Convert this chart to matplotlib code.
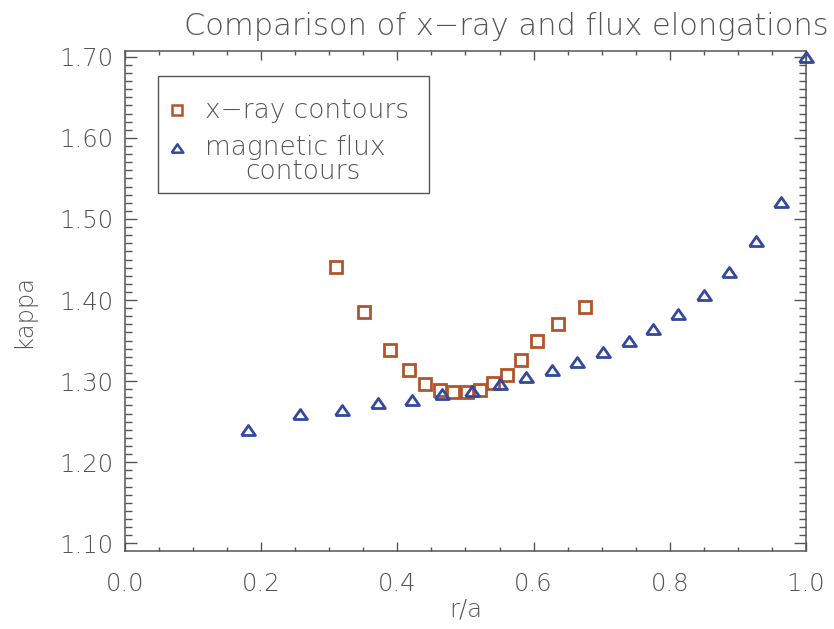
import matplotlib
matplotlib.use("Agg")
import matplotlib.pyplot as plt
from matplotlib.patches import Rectangle

plt.rcParams['font.family'] = ['DejaVu Sans']
plt.rcParams['axes.unicode_minus'] = True

# x-ray contour elongations
xray_r = [0.310, 0.351, 0.389, 0.417, 0.441, 0.463, 0.482, 0.502, 0.521,
          0.541, 0.561, 0.581, 0.605, 0.636, 0.676]
xray_kappa = [1.441, 1.385, 1.338, 1.314, 1.297, 1.289, 1.286, 1.286, 1.289,
              1.298, 1.308, 1.326, 1.350, 1.371, 1.391]

# magnetic flux contour elongations
flux_r = [0.180, 0.257, 0.318, 0.372, 0.421, 0.466, 0.509, 0.550, 0.589, 0.627,
          0.664, 0.702, 0.740, 0.776, 0.812, 0.850, 0.887, 0.926, 0.964, 1.000]
flux_kappa = [1.240, 1.260, 1.264, 1.273, 1.277, 1.284, 1.288, 1.297, 1.305, 1.314,
              1.324, 1.336, 1.349, 1.364, 1.383, 1.406, 1.435, 1.473, 1.521, 1.700]

xticks = [0.0, 0.2, 0.4, 0.6, 0.8, 1.0]
yticks = [1.10, 1.20, 1.30, 1.40, 1.50, 1.60, 1.70]

TXT = '#555555'
AX = '#555555'
SQ_COLOR = '#b4532a'
TRI_COLOR = '#3349a0'
FS = 17.5
LEG_FS = 19
FW = 'light'

# flat triangle like the IDL psym=5
tri = [(-1.0, -0.72), (1.0, -0.72), (0.0, 0.72), (-1.0, -0.72)]

fig = plt.figure(figsize=(8.34, 6.29), dpi=100)
ax = fig.add_axes([0.1499, 0.1245, 0.8165, 0.7949])

ax.plot(xray_r, xray_kappa, ls='none', marker='s', ms=9.2, mfc='none',
        mec=SQ_COLOR, mew=2.0, clip_on=False, zorder=3)
ax.plot(flux_r, flux_kappa, ls='none', marker=tri, ms=10, mfc='none',
        mec=TRI_COLOR, mew=2.0, clip_on=False, zorder=3)

ax.set_xlim(0.0, 1.0)
ax.set_ylim(1.0909, 1.7075)
ax.set_xticks(xticks)
ax.set_xticklabels([f"{v:.1f}" for v in xticks])
ax.set_yticks(yticks)
ax.set_yticklabels([f"{v:.2f}" for v in yticks])
ax.xaxis.set_minor_locator(matplotlib.ticker.MultipleLocator(0.05))
ax.yaxis.set_minor_locator(matplotlib.ticker.MultipleLocator(0.01))

ax.tick_params(axis='both', which='both', direction='in', top=True, right=True,
               colors=AX, labelcolor=TXT, labelsize=FS, width=1.0)
ax.tick_params(axis='x', which='major', length=6.5, pad=15)
ax.tick_params(axis='x', which='minor', length=3)
ax.tick_params(axis='y', which='major', length=8.6, pad=8.5)
ax.tick_params(axis='y', which='minor', length=5)
for lab in ax.get_xticklabels() + ax.get_yticklabels():
    lab.set_fontweight(FW)
for sp in ax.spines.values():
    sp.set_color(AX)
    sp.set_linewidth(1.1)

ax.set_xlabel('r/a', fontsize=FS, color=TXT, fontweight=FW, va='center')
ax.xaxis.set_label_coords(0.5, -0.1186)
ax.set_ylabel('kappa', fontsize=FS, color=TXT, fontweight=FW, va='center')
ax.yaxis.set_label_coords(-0.150, 0.48)

fig.text(0.607, 0.9444, 'Comparison of x\u2212ray and flux elongations',
         ha='center', va='baseline', fontsize=22, color=TXT, fontweight=FW)

# legend box drawn by hand (IDL style)
ax.add_patch(Rectangle((0.0485, 0.7154), 0.3979, 0.234, transform=ax.transAxes,
                       fill=False, ec=AX, lw=1.0, zorder=4))
ax.plot([0.0764], [0.8814], transform=ax.transAxes, ls='none', marker='s', ms=7.6,
        mfc='none', mec=SQ_COLOR, mew=1.8, zorder=5)
ax.plot([0.0764], [0.8054], transform=ax.transAxes, ls='none', marker=tri, ms=8.4,
        mfc='none', mec=TRI_COLOR, mew=1.8, zorder=5)
ax.text(0.1175, 0.8654, 'x\u2212ray contours', transform=ax.transAxes,
        fontsize=LEG_FS, color=TXT, fontweight=FW, va='baseline', ha='left')
ax.text(0.1175, 0.7914, 'magnetic flux', transform=ax.transAxes,
        fontsize=LEG_FS, color=TXT, fontweight=FW, va='baseline', ha='left')
ax.text(0.2614, 0.7434, 'contours', transform=ax.transAxes,
        fontsize=LEG_FS, color=TXT, fontweight=FW, va='baseline', ha='center')

fig.savefig('out.png', dpi=100)
